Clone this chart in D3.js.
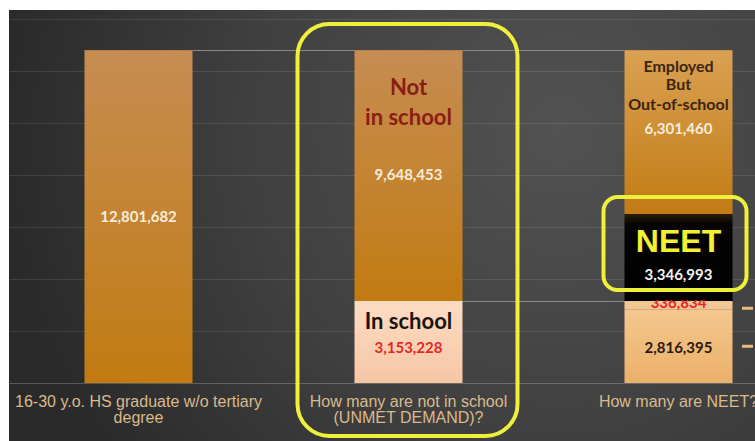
<!DOCTYPE html>
<html>
<head>
<meta charset="utf-8">
<script src="https://cdn.jsdelivr.net/npm/d3@7"></script>
<style>
  html, body { margin: 0; padding: 0; background: #ffffff; }
  svg { display: block; }
</style>
</head>
<body>
<svg id="chart" width="755" height="441"></svg>
<script>
// Categories and their axis label lines
const categories = ["graduates", "unmet", "neet"];
const categoryLines = [
  ["16-30 y.o. HS graduate w/o tertiary", "degree"],
  ["How many are not in school", "(UNMET DEMAND)?"],
  ["How many are NEET?"]
];

// Stacked values, bottom to top, for each column
const graduatesValues = [12801682];
const unmetValues = [3153228, 9648453];           // in school, not in school
const neetValues = [2816395, 336834, 3346993, 6301460]; // bottom, gap, NEET, employed

// Gridline ticks
const gridTicks = [0, 2e6, 4e6, 6e6, 8e6, 10e6, 12e6, 14e6];

const W = 755, H = 441;
const svg = d3.select("#chart");
const defs = svg.append("defs");

// Backdrop gradient
const bg = defs.append("radialGradient").attr("id", "bg")
  .attr("gradientUnits", "userSpaceOnUse")
  .attr("cx", 560).attr("cy", 130).attr("r", 560);
bg.append("stop").attr("offset", "0%").attr("stop-color", "#525252");
bg.append("stop").attr("offset", "55%").attr("stop-color", "#404040");
bg.append("stop").attr("offset", "100%").attr("stop-color", "#2a2a2a");

function vGrad(id, top, bottom) {
  const g = defs.append("linearGradient").attr("id", id)
    .attr("x1", 0).attr("y1", 0).attr("x2", 0).attr("y2", 1);
  g.append("stop").attr("offset", "0%").attr("stop-color", top);
  g.append("stop").attr("offset", "100%").attr("stop-color", bottom);
}
vGrad("orange", "#c68d52", "#c27b12");
vGrad("orange3", "#daa153", "#c27b14");
vGrad("peach", "#fddcc4", "#f6c6a4");
vGrad("gold", "#f4c78e", "#ebb069");
vGrad("gap", "#f3c897", "#f1c38f");
const ng = defs.append("linearGradient").attr("id", "black")
  .attr("x1", 0).attr("y1", 0).attr("x2", 0).attr("y2", 1);
ng.append("stop").attr("offset", "0%").attr("stop-color", "#2a1c0a");
ng.append("stop").attr("offset", "12%").attr("stop-color", "#050403");
ng.append("stop").attr("offset", "100%").attr("stop-color", "#000000");

svg.append("rect").attr("x", 9).attr("y", 10)
  .attr("width", W - 9).attr("height", H - 10).attr("fill", "url(#bg)");

// Scales
const x = d3.scaleBand().domain(categories).range([3.5, 813.5])
  .paddingInner(0.6).paddingOuter(0.3);
const y = d3.scaleLinear().domain([0, 14e6]).range([383, 19]);

// Gridlines
svg.append("g").selectAll("line").data(gridTicks).join("line")
  .attr("x1", 9).attr("x2", W)
  .attr("y1", d => Math.round(y(d)) + 0.5).attr("y2", d => Math.round(y(d)) + 0.5)
  .attr("stroke", d => d === 0 ? "rgba(255,255,255,0.22)" : "rgba(255,255,255,0.10)")
  .attr("stroke-width", 1);

// Segment styles per column
const segStyles = {
  graduates: [{ fill: "url(#orange)" }],
  unmet: [{ fill: "url(#peach)" }, { fill: "url(#orange)" }],
  neet: [{ fill: "url(#gold)" }, { fill: "url(#gap)" }, { fill: "url(#black)" }, { fill: "url(#orange3)" }]
};
const columnValues = { graduates: graduatesValues, unmet: unmetValues, neet: neetValues };

const segments = [];
categories.forEach(cat => {
  let acc = 0;
  columnValues[cat].forEach((v, i) => {
    segments.push({ cat, i, v, y0: acc, y1: acc + v, fill: segStyles[cat][i].fill });
    acc += v;
  });
});

// Series lines connecting stacked levels between neighbouring columns
const totalOf = cat => d3.sum(columnValues[cat]);
const seriesLines = [
  { from: "graduates", to: "unmet", v0: totalOf("graduates"), v1: totalOf("unmet") },
  { from: "unmet", to: "neet", v0: totalOf("unmet"), v1: totalOf("neet") },
  { from: "unmet", to: "neet", v0: unmetValues[0], v1: neetValues[0] + neetValues[1] }
];
svg.append("g").selectAll("line").data(seriesLines).join("line")
  .attr("x1", d => x(d.from) + x.bandwidth())
  .attr("x2", d => x(d.to))
  .attr("y1", d => Math.round(y(d.v0)) + 0.5)
  .attr("y2", d => Math.round(y(d.v1)) + 0.5)
  .attr("stroke", "#8e8a82").attr("stroke-width", 1);

// Bars
svg.append("g").selectAll("rect").data(segments).join("rect")
  .attr("x", d => x(d.cat))
  .attr("width", x.bandwidth())
  .attr("y", d => y(d.y1))
  .attr("height", d => y(d.y0) - y(d.y1))
  .attr("fill", d => d.fill);

const fmt = d3.format(",");
const seg = (cat, i) => segments.find(s => s.cat === cat && s.i === i);
const cx = cat => x(cat) + x.bandwidth() / 2;
const labels = svg.append("g").attr("text-anchor", "middle")
  .style("font-family", "Lato, 'Open Sans', sans-serif").style("font-weight", "bold");

function addText(cat, yPos, text, size, color, extra) {
  const t = labels.append("text")
    .attr("x", cx(cat)).attr("y", yPos)
    .style("font-size", size + "px").attr("fill", color).text(text);
  if (extra) extra(t);
  return t;
}

// Graduates column
const g0 = seg("graduates", 0);
addText("graduates", y(g0.y1) + 172, fmt(g0.v), 15, "#f6ecdc");

// Unmet demand column
const uIn = seg("unmet", 0), uOut = seg("unmet", 1);
addText("unmet", y(uOut.y1) + 45, "Not", 22, "#8c1c14");
addText("unmet", y(uOut.y1) + 75, "in school", 22, "#8c1c14");
addText("unmet", y(uOut.y1) + 130, fmt(uOut.v), 15, "#f6ecdc");
addText("unmet", y(uIn.y1) + 28, "In school", 22, "#1a1410");
addText("unmet", y(uIn.y1) + 52, fmt(uIn.v), 15, "#e02a2a");

// NEET column
const nBottom = seg("neet", 0), nGap = seg("neet", 1), nNeet = seg("neet", 2), nEmp = seg("neet", 3);
addText("neet", y(nEmp.y1) + 22, "Employed", 16, "#3a2512");
addText("neet", y(nEmp.y1) + 40, "But", 16, "#3a2512");
addText("neet", y(nEmp.y1) + 60, "Out-of-school", 16, "#3a2512");
addText("neet", y(nEmp.y1) + 84, fmt(nEmp.v), 15, "#f6ecdc");
addText("neet", y(nNeet.y1) + 38, "NEET", 32, "#f2f030",
  t => t.style("font-family", "'Liberation Sans', Arial, sans-serif"));
addText("neet", y(nNeet.y1) + 66, fmt(nNeet.v), 15, "#f4f4f4");

// Thin gap segment label, clipped to sit under the NEET block
defs.append("clipPath").attr("id", "gapClip").append("rect")
  .attr("x", x("neet") - 10).attr("y", y(nGap.y1) - 1)
  .attr("width", x.bandwidth() + 20).attr("height", 40);
addText("neet", y(nGap.y1) + 6.5, fmt(nGap.v), 15, "#e02a2a",
  t => t.attr("clip-path", "url(#gapClip)"));
addText("neet", y(nBottom.y1) + 43, fmt(nBottom.v), 15, "#2a1a0c");

// Legend markers at the right edge
svg.append("g").selectAll("rect").data([nBottom, nGap]).join("rect")
  .attr("x", 742).attr("width", 11).attr("height", 3)
  .attr("y", (d, i) => i === 0 ? y(nBottom.y1) - 3 : y(nBottom.y1) + 35)
  .attr("fill", "#e8bd7c");

// Category labels
const catLabels = svg.append("g").attr("text-anchor", "middle")
  .style("font-family", "'Liberation Sans', Arial, sans-serif")
  .style("font-size", "16px").attr("fill", "#d9ba8c");
categories.forEach((cat, i) => {
  categoryLines[i].forEach((line, j) => {
    catLabels.append("text")
      .attr("x", cx(cat)).attr("y", 406.5 + j * 16.5)
      .text(line);
  });
});

// Highlight outlines
svg.append("rect")
  .attr("x", x("unmet") - 57).attr("y", 24)
  .attr("width", x.bandwidth() + 112).attr("height", 412)
  .attr("rx", 32).attr("ry", 32)
  .attr("fill", "none").attr("stroke", "#eef03c").attr("stroke-width", 4);
svg.append("rect")
  .attr("x", x("neet") - 21).attr("y", y(nNeet.y1) - 17)
  .attr("width", x.bandwidth() + 35).attr("height", y(nNeet.y0) - y(nNeet.y1) + 6)
  .attr("rx", 14).attr("ry", 14)
  .attr("fill", "none").attr("stroke", "#eef03c").attr("stroke-width", 4);
</script>
</body>
</html>
